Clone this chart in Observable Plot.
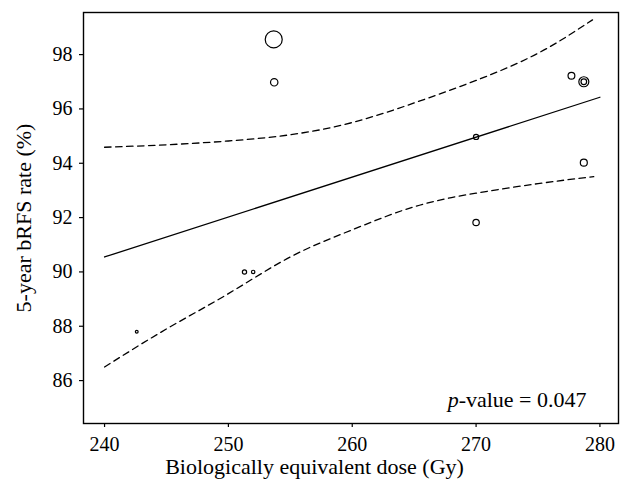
<!DOCTYPE html>
<html>
<head>
<meta charset="utf-8">
<script src="https://cdn.jsdelivr.net/npm/d3@7"></script>
<script src="https://cdn.jsdelivr.net/npm/@observablehq/plot@0.6"></script>
<style>
  html, body { margin: 0; padding: 0; background: #fff; }
  #chart { width: 628px; height: 479px; }
</style>
</head>
<body>
<div id="chart"></div>
<script>
// ---- Data ----
const doseBED  = [253.66, 253.7, 277.7, 278.7, 278.7, 270.0, 278.7, 270.0, 251.3, 252.0, 242.6];
const bRFS     = [98.56, 96.98, 97.22, 97.0, 97.0, 94.97, 94.02, 91.82, 90.0, 90.0, 87.8];
const weight   = [780, 148, 125, 270, 85, 73, 132, 111, 48, 31, 21];

const fitX = [240, 280];
const fitY = [90.55, 96.43];

const upperX = [240, 245, 250, 255, 260, 265, 270, 275, 279.4];
const upperY = [94.59, 94.68, 94.82, 95.05, 95.50, 96.22, 97.05, 98.05, 99.28];

const lowerX = [240, 245, 250, 255, 260, 265, 270, 275, 279.5];
const lowerY = [86.5, 87.9, 89.2, 90.55, 91.55, 92.4, 92.9, 93.25, 93.51];

const xTicks = [240, 250, 260, 270, 280];
const yTicks = [86, 88, 90, 92, 94, 96, 98];

const xLabel = "Biologically equivalent dose (Gy)";
const yLabel = "5-year bRFS rate (%)";
const pText = "p-value = 0.047";

// ---- Tables built from the arrays ----
const points = doseBED.map((x, i) => ({x, y: bRFS[i], w: weight[i]}));
const fit = fitX.map((x, i) => ({x, y: fitY[i]}));
const upper = upperX.map((x, i) => ({x, y: upperY[i]}));
const lower = lowerX.map((x, i) => ({x, y: lowerY[i]}));

const chart = Plot.plot({
  width: 628,
  height: 479,
  marginLeft: 83,
  marginRight: 10,
  marginTop: 12,
  marginBottom: 56,
  style: {fontFamily: "'Liberation Serif', 'DejaVu Serif', serif", fontSize: "20px", color: "black", background: "white"},
  x: {domain: [238.3, 281.5]},
  y: {domain: [84.42, 99.55]},
  r: {domain: [0, 780], range: [0, 8.5]},
  marks: [
    Plot.frame({stroke: "black", strokeWidth: 1.4}),
    Plot.axisX({ticks: xTicks, tickSize: 4, tickPadding: 9, label: null, fontSize: 20, strokeWidth: 1.2}),
    Plot.axisY({ticks: yTicks, tickSize: 4, tickPadding: 7, label: null, fontSize: 20, strokeWidth: 1.2}),
    Plot.line(fit, {x: "x", y: "y", stroke: "black", strokeWidth: 1.3}),
    Plot.line(upper, {x: "x", y: "y", stroke: "black", strokeWidth: 1.3, strokeDasharray: "6.5,4.5", curve: "natural"}),
    Plot.line(lower, {x: "x", y: "y", stroke: "black", strokeWidth: 1.3, strokeDasharray: "6.5,4.5", curve: "natural"}),
    Plot.dot(points, {x: "x", y: "y", r: "w", stroke: "black", strokeWidth: 1.2, fill: "none"}),
    Plot.text([xLabel], {text: d => d, frameAnchor: "bottom", textAnchor: "middle", dx: -36.5, dy: 50, lineAnchor: "bottom", fontSize: 22}),
    Plot.text([yLabel], {text: d => d, frameAnchor: "left", textAnchor: "middle", rotate: -90, dx: -53, lineAnchor: "bottom", fontSize: 22}),
    Plot.text([pText], {text: d => d, frameAnchor: "bottom-right", textAnchor: "end", dx: -32, dy: -17, lineAnchor: "bottom", fontSize: 22, className: "pval"})
  ]
});

document.getElementById("chart").appendChild(chart);

// italic "p" in the p-value annotation
d3.select(chart).selectAll(".pval text").each(function() {
  const t = d3.select(this);
  const s = t.text();
  t.text("");
  t.append("tspan").attr("font-style", "italic").text(s.slice(0, 1));
  t.append("tspan").text(s.slice(1));
});
</script>
</body>
</html>
